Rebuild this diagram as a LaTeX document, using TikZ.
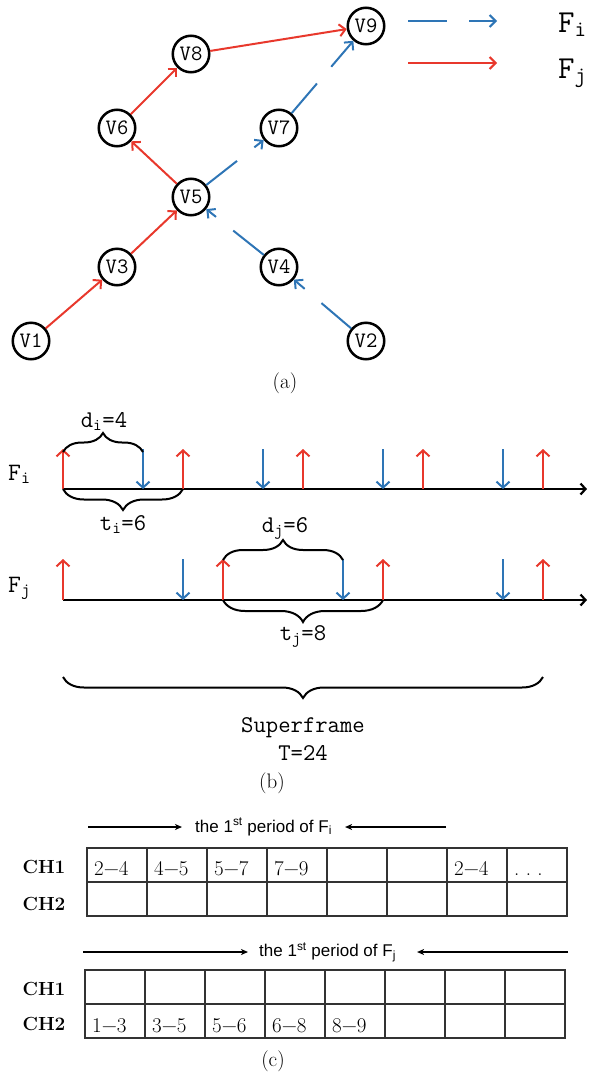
\documentclass[tikz,border=0pt]{standalone}
\usepackage{fontspec}
\usepackage{tikz}
\usetikzlibrary{arrows.meta,decorations.pathreplacing}
\newfontfamily\sansfont{Liberation Sans}
\definecolor{fiblue}{HTML}{2E75B6}
\definecolor{fjred}{HTML}{E8382C}
\definecolor{gridline}{HTML}{333333}
\newcommand{\fsz}[1]{\fontsize{#1}{#1}\selectfont}
\tikzset{
  vtx/.style={circle, draw=black, line width=2.5pt, minimum size=36.5pt, inner sep=0pt,
              font=\ttfamily\fsz{22}},
  fi/.style={draw=fiblue, line width=2pt, dash pattern=on 39pt off 22pt,
             -{Straight Barb[length=6pt,width=12pt]}},
  fj/.style={draw=fjred, line width=2pt, -{Straight Barb[length=6pt,width=12pt]}},
  lgd/.style={anchor=base west, inner sep=0pt, font=\ttfamily\fsz{32}},
  flbl/.style={anchor=base west, inner sep=0pt, font=\ttfamily\fsz{25}},
  blbl/.style={anchor=base, inner sep=0pt, font=\ttfamily\fsz{24}},
  caplbl/.style={anchor=base, inner sep=0pt, font=\rmfamily\fsz{21}},
  axis/.style={draw=black, line width=2.2pt, -{Straight Barb[length=5pt,width=11pt]}},
  evt/.style={line width=2pt, -{Straight Barb[length=6pt,width=13pt]}},
  brc/.style={decorate, decoration={brace, amplitude=#1pt}, draw=black, line width=2pt},
  ptxt/.style={font=\sansfont\fsz{17}, inner ysep=0pt},
  period/.style={draw=black, line width=1.2pt, -{Stealth[length=7pt,width=6pt,inset=2pt]}},
  cellbox/.style={draw=gridline, line width=1.2pt, minimum width=60pt, minimum height=34pt,
                  anchor=north west, inner sep=0pt, outer sep=0pt},
  celltxt/.style={anchor=base west, inner sep=0pt, text=black, font=\rmfamily\fsz{21}},
  chlbl/.style={inner sep=0pt, font=\rmfamily\bfseries\fsz{19}},
}

\begin{document}
\begin{tikzpicture}[x=1pt,y=-1pt]
\useasboundingbox (0,0) rectangle (591,1074);

% (a) the two routes
\node[vtx] (v1) at (31,341)  {V1};
\node[vtx] (v2) at (366,341) {V2};
\node[vtx] (v3) at (117,267) {V3};
\node[vtx] (v4) at (279,267) {V4};
\node[vtx] (v5) at (191,197) {V5};
\node[vtx] (v6) at (117,128) {V6};
\node[vtx] (v7) at (279,128) {V7};
\node[vtx] (v8) at (191,54)  {V8};
\node[vtx] (v9) at (366,26)  {V9};

\draw[fj](v1)--(v3); \draw[fj](v3)--(v5); \draw[fj](v5)--(v6);
\draw[fj](v6)--(v8); \draw[fj](v8)--(v9);
\draw[fi](v2)--(v4); \draw[fi](v4)--(v5); \draw[fi](v5)--(v7); \draw[fi](v7)--(v9);

\coordinate (li0) at (408,21); \coordinate (li1) at (497,21);
\coordinate (lj0) at (408,63); \coordinate (lj1) at (497,63);
\draw[fi](li0)--(li1); \draw[fj](lj0)--(lj1);
\node[lgd] (lfi) at (558,32) {F\textsubscript{i}};
\node[lgd] (lfj) at (558,78) {F\textsubscript{j}};
\node[caplbl] (capa) at (285,388) {(a)};

% (b) releases and deadlines, 20pt per slot
\node[flbl] (fi) at (8,480) {F\textsubscript{i}};
\node[flbl] (fj) at (8,592) {F\textsubscript{j}};
\draw[axis] (63,489) -- (587,489);
\draw[axis] (63,600) -- (587,600);
\foreach \t in {0,6,...,24} \draw[evt, fjred] (63+20*\t,489) -- ++(0,-40);
\foreach \t in {4,10,...,22} \draw[evt, fiblue] (63+20*\t,449) -- ++(0,40);
\foreach \t in {0,8,...,24} \draw[evt, fjred] (63+20*\t,600) -- ++(0,-41);
\foreach \t in {6,14,22} \draw[evt, fiblue] (63+20*\t,559) -- ++(0,41);

\draw[brc=19] (63,452) -- (143,452);
\node[blbl] (di) at (104,427) {d\textsubscript{i}=4};
\draw[brc=21] (183,489) -- (63,489);
\node[blbl] (ti) at (123,530) {t\textsubscript{i}=6};
\draw[brc=20] (223,560) -- (343,560);
\node[blbl] (dj) at (285,532) {d\textsubscript{j}=6};
\draw[brc=22] (383,600) -- (223,600);
\node[blbl] (tj) at (303,640) {t\textsubscript{j}=8};
\draw[brc=21] (543,677) -- (63,677);
\node[blbl] (sf) at (303,732) {Superframe};
\node[blbl] (tt) at (303,760) {T=24};
\node[caplbl] (capb) at (272,788) {(b)};

% (c) channel schedules
\node[ptxt, inner xsep=13pt, anchor=west] (pi) at (182,827) {the 1\textsuperscript{st} period of F\textsubscript{i}};
\coordinate (pil) at (88,827); \coordinate (pir) at (446,827);
\draw[period] (pil) -- (pi.west); \draw[period] (pir) -- (pi.east);
\node[ptxt, inner xsep=11pt, anchor=west] (pj) at (248,952) {the 1\textsuperscript{st} period of F\textsubscript{j}};
\coordinate (pjl) at (83,952); \coordinate (pjr) at (568,952);
\draw[period] (pjl) -- (pj.west); \draw[period] (pjr) -- ([xshift=10pt]pj.east);

\foreach \k in {0,...,7} {
  \node[cellbox] (a1c\k) at (87+60*\k,848) {};
  \node[cellbox] (a2c\k) at (87+60*\k,882) {};
  \node[cellbox] (b1c\k) at (85+60*\k,970) {};
  \node[cellbox] (b2c\k) at (85+60*\k,1004) {};
}
\foreach \k/\s in {0/2−4,1/4−5,2/5−7,3/7−9,6/2−4,7/{.\ .\ .}}
  \node[celltxt] at ([xshift=7pt,yshift=-10pt]a1c\k.west) {\s};
\foreach \k/\s in {0/1−3,1/3−5,2/5−6,3/6−8,4/8−9}
  \node[celltxt] at ([xshift=7pt,yshift=-11pt]b2c\k.west) {\s};

\node[chlbl] (ch1a) at (44,867)  {CH1};
\node[chlbl] (ch2a) at (44,904)  {CH2};
\node[chlbl] (ch1b) at (44,989)  {CH1};
\node[chlbl] (ch2b) at (44,1024) {CH2};
\node[caplbl] (capc) at (273,1066) {(c)};
\end{tikzpicture}
\end{document}
